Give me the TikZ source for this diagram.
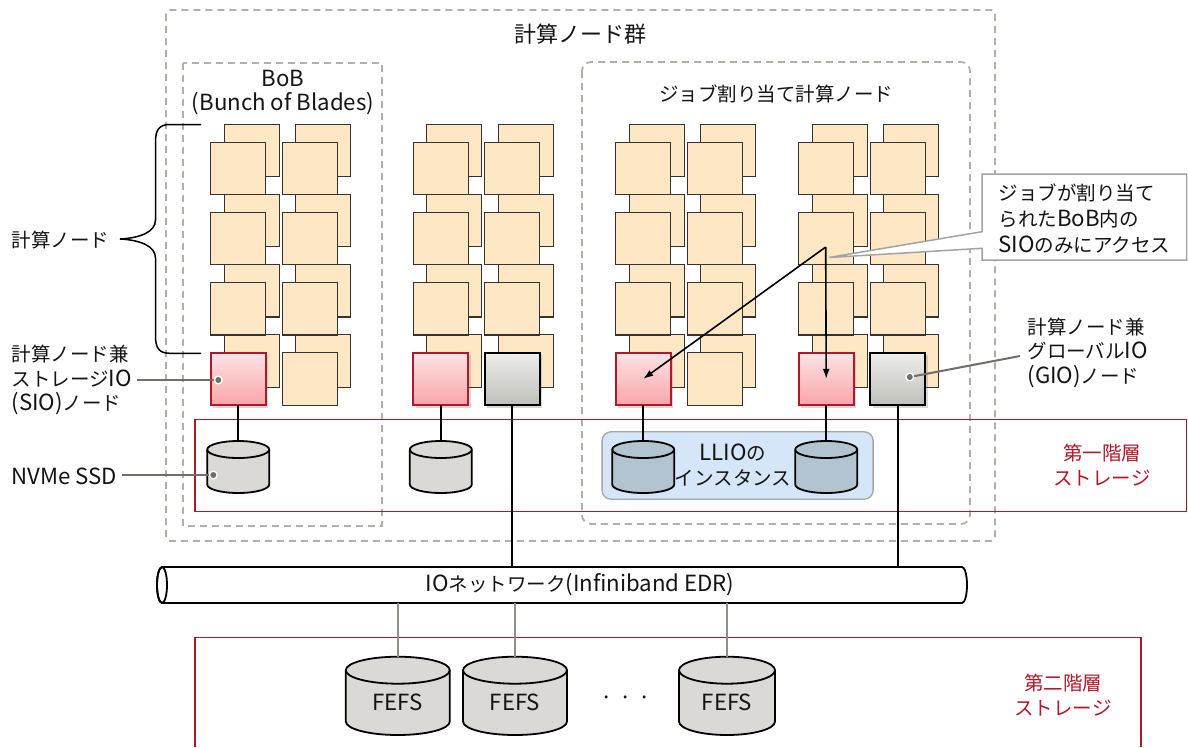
\documentclass[tikz,border=0pt]{standalone}
\usepackage{fontspec}
\setmainfont{Noto Sans CJK JP}
\newfontfamily\latn[Scale=1.14]{Noto Sans CJK JP}
\usetikzlibrary{shadows,arrows.meta,calc}
\definecolor{cnfill}{HTML}{FDE7C4}
\definecolor{cnborder}{HTML}{333333}
\definecolor{sred}{HTML}{B2182B}
\definecolor{siotop}{HTML}{FDE4E6}
\definecolor{siobot}{HTML}{F8A5A8}
\definecolor{giotop}{HTML}{EEEEED}
\definecolor{giobot}{HTML}{BEBFB8}
\definecolor{dashgray}{HTML}{B0B0AB}
\definecolor{ssdgray}{HTML}{DAD9D6}
\definecolor{llioblue}{HTML}{B2C4D0}
\definecolor{lliofill}{HTML}{D4E6F8}
\definecolor{lliobord}{HTML}{A6A6A6}
\definecolor{leadgray}{HTML}{6E6E6A}
\definecolor{callgray}{HTML}{A3A3A3}
\definecolor{fgray}{HTML}{8E8E8A}
\definecolor{txt}{HTML}{141414}
\tikzset{
  cn/.style={draw=cnborder, fill=cnfill, line width=1.1pt, minimum width=55pt, minimum height=52.5pt, inner sep=0pt, outer sep=0pt},
  iobase/.style={minimum width=55pt, minimum height=52.5pt, inner sep=0pt, outer sep=0pt,
     drop shadow={shadow xshift=2.5pt, shadow yshift=-2.5pt, opacity=0.25, fill=black!60}},
  sio/.style={iobase, draw=sred, line width=1.8pt, top color=siotop, bottom color=siobot},
  gio/.style={iobase, draw=black, line width=2.2pt, top color=giotop, bottom color=giobot},
  dashbox/.style={draw=dashgray, line width=1.8pt, dash pattern=on 7pt off 5pt},
  redbox/.style={draw=sred, line width=1.5pt},
  cylbody/.style={draw=black, line width=1.8pt},
  conn/.style={draw=black, line width=2pt},
  fconn/.style={draw=fgray, line width=1.8pt},
  leader/.style={draw=leadgray, line width=2pt},
  arr/.style={draw=black, line width=1.6pt, -{Latex[length=10pt,width=7pt]}},
  llio/.style={draw=lliobord, fill=lliofill, line width=1.3pt, rounded corners=9pt, inner sep=0pt},
}
\newcommand\drawcyl[8]{%
  \path[cylbody, fill=#7] ({#2-#4/2},{-(#3+#6)}) -- ({#2-#4/2},{-(#3+#5-#6)})
     arc[start angle=180,end angle=360,x radius={#4/2},y radius=#6]
     -- ({#2+#4/2},{-(#3+#6)})
     arc[start angle=0,end angle=180,x radius={#4/2},y radius=#6] -- cycle;
  \draw[cylbody] ({#2-#4/2},{-(#3+#6)}) arc[start angle=180,end angle=360,x radius={#4/2},y radius=#6];
  \coordinate (#1-top) at (#2,{-#3});
  \node (#1) at (#2,{-(#3+#6+(#5-#6)/2)}) {#8};
}
\newcommand\leaddot[1]{\fill[white] (#1) circle (4.5); \fill[leadgray] (#1) circle (3);}
\begin{document}
\begin{tikzpicture}[x=1pt,y=1pt, every node/.style={font=\fontsize{19.5}{24.5}\selectfont, text=txt}]
\path[use as bounding box, fill=white] (0,0) rectangle (1188,-747);

% dashed groups
\draw[dashbox, rounded corners=4pt] (166,-10) rectangle (995,-541);
\draw[dashbox] (183,-63) rectangle (382,-526);
\draw[dashbox, rounded corners=9pt] (582,-62) rectangle (970,-524);

\node (grp) at (580,-34) {\fontsize{22}{26}\selectfont 計算ノード群};
\node[align=center] (bob) at (283,-92.5) {{\latn BoB}\\{\latn (Bunch of Blades)}};
\node (job) at (776,-94) {ジョブ割り当て計算ノード};

% storage tiers
\draw[redbox] (195,-419.3) rectangle (1186.5,-511.7);
\draw[redbox] (195,-747) -- (195,-637.3) -- (1141,-637.3) -- (1141,-747);

% compute nodes: back layer
\foreach \g/\gx in {1/210.7,2/413.3,3/615.7,4/798.7}
  \foreach \c in {0,1}
    \foreach \r in {0,1,2,3}
      \node[cn] (b-\g-\c-\r) at ({\gx+\c*71.6+41.1},{-(168.4+70.15*\r)+18}) {};
% front layer
\foreach \g/\gx in {1/210.7,2/413.3,3/615.7,4/798.7}
  \foreach \c in {0,1}
    \foreach \r in {0,1,2}
      \node[cn] (n-\g-\c-\r) at ({\gx+\c*71.6+27.5},{-(168.4+70.15*\r)}) {};
% bottom row
\node[sio] (sio1) at (238.2,-378.85) {};
\node[cn]  (n-1-1-3) at (309.8,-378.85) {};
\node[sio] (sio2) at (440.8,-378.85) {};
\node[gio] (gio1) at (512.4,-378.85) {};
\node[sio] (sio3) at (643.2,-378.85) {};
\node[cn]  (n-3-1-3) at (714.8,-378.85) {};
\node[sio] (sio4) at (826.2,-378.85) {};
\node[gio] (gio2) at (897.8,-378.85) {};

% LLIO
\node[llio, minimum width=271pt, minimum height=67.5pt] (llio) at (737.6,-465.5) {};
\node[align=center] (lliot) at (733,-465) {{\latn LLIO}の\\インスタンス};

% SSDs
\drawcyl{ssd1}{238.2}{441}{62}{52}{8.5}{ssdgray}{}
\drawcyl{ssd2}{440.8}{441}{62}{52}{8.5}{ssdgray}{}
\drawcyl{ssd3}{643.2}{441}{62}{52}{8.5}{llioblue}{}
\drawcyl{ssd4}{826.2}{441}{62}{52}{8.5}{llioblue}{}
\foreach \i in {1,2,3,4} \draw[conn] (sio\i.south) -- (ssd\i-top);

% network
\node[minimum width=800pt, minimum height=36pt, inner sep=0pt, outer sep=0pt] (net) at (562,-585) {};
\path[draw=black, fill=white, line width=1.8pt] (net.north west) -- (net.north east)
   arc[start angle=90,end angle=-90,x radius=5,y radius=18] -- (net.south west)
   arc[start angle=270,end angle=90,x radius=5,y radius=18] -- cycle;
\draw[line width=1.8pt] (net.west) ellipse [x radius=5, y radius=18];
\node (nett) at (580,-585) {{\latn IO}ネットワーク{\latn (Infiniband EDR)}};
\draw[conn] (gio1.south) -- (gio1.south |- net.north);
\draw[conn] (gio2.south) -- (gio2.south |- net.north);

% FEFS
\drawcyl{fefs1}{397.8}{656.7}{104}{78.3}{13.5}{ssdgray}{\latn FEFS}
\drawcyl{fefs2}{515}{656.7}{104}{78.3}{13.5}{ssdgray}{\latn FEFS}
\drawcyl{fefs3}{727}{656.7}{96}{78.3}{13.5}{ssdgray}{\latn FEFS}
\foreach \i in {1,2,3} \draw[fconn] (fefs\i-top) -- (fefs\i-top |- net.south);
\node (dots) at (625.5,-700.7) {{\latn ·\hspace{6.5pt}·\hspace{6.5pt}·}};

% tier labels
\node[text=sred, align=center] (t1) at (1102,-465) {第一階層\\ストレージ};
\node[text=sred, align=center] (t2) at (1063,-695) {第二階層\\ストレージ};

% callout
\path[draw=callgray, fill=white, line width=1.5pt] (982,-174) -- (1186.5,-174) -- (1186.5,-260) -- (982,-260)
   -- (982,-248.3) -- (829,-257.5) -- (982,-231.7) -- cycle;
\node[align=left, anchor=west, font=\fontsize{19.5}{26}\selectfont] (call) at (995,-219)
   {ジョブが割り当て\\られた{\latn BoB}内の\\{\latn SIO}のみにアクセス};

% arrows
\coordinate (src) at (825.7,-247);
\draw[arr] (src) -- (sio3.center);
\draw[arr] (src) -- (sio4.center);

% left labels
\node[anchor=west] (lcn) at (8,-240) {計算ノード};
\draw[line width=1.5pt] (201,-124.5) -- (170,-124.5) .. controls (159,-124.5) and (155.5,-130) .. (155.5,-142)
   -- (155.5,-220) .. controls (155.5,-232) and (140,-238) .. (120,-239)
   .. controls (140,-240) and (155.5,-246) .. (155.5,-258)
   -- (155.5,-336) .. controls (155.5,-348) and (159,-353.3) .. (170,-353.3) -- (201,-353.3);

\node[anchor=west, align=left] (lsio) at (8,-380) {計算ノード兼\\ストレージ{\latn IO}\\{\latn (SIO)}ノード};
\coordinate (sioL) at (137,-380);
\coordinate (sioD) at (218.3,-380);
\draw[leader] (sioL) -- (sioD);
\leaddot{sioD}

\node[anchor=west] (lssd) at (8,-476) {{\latn NVMe SSD}};
\coordinate (ssdL) at (122,-475);
\coordinate (ssdD) at (213.3,-475);
\draw[leader] (ssdL) -- (ssdD);
\leaddot{ssdD}

\node[anchor=west, align=left] (lgio) at (1024,-352.5) {計算ノード兼\\グローバル{\latn IO}\\{\latn (GIO)}ノード};
\coordinate (gioD) at (909.8,-377);
\coordinate (gioL) at (1020,-356);
\draw[leader] (gioL) -- (gioD);
\leaddot{gioD}
\end{tikzpicture}
\end{document}
